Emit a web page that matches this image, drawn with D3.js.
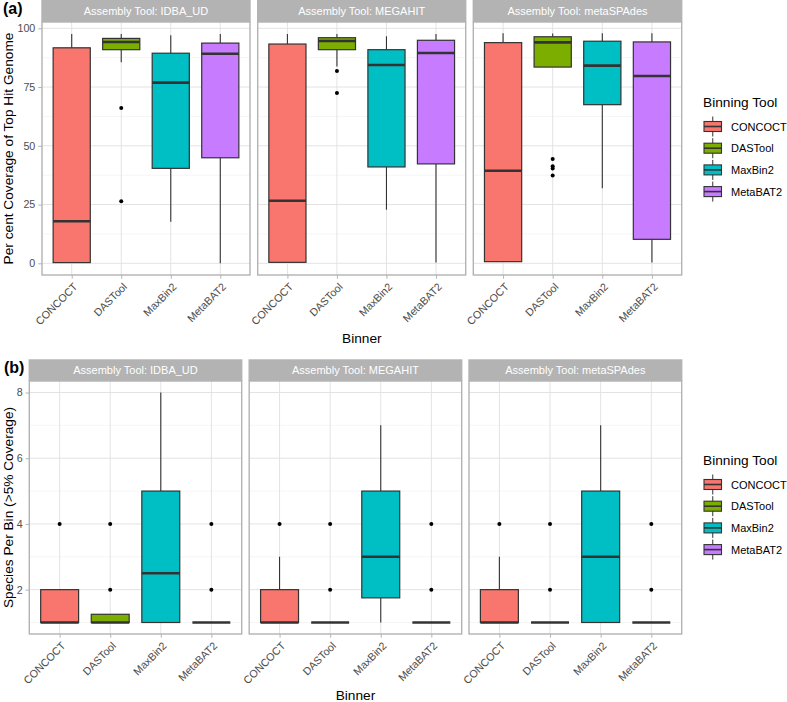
<!DOCTYPE html>
<html>
<head>
<meta charset="utf-8">
<script src="https://cdn.jsdelivr.net/npm/d3@7"></script>
<style>
  html, body { margin: 0; padding: 0; background: #fff; }
  svg { display: block; font-family: "Liberation Sans", Arial, sans-serif; }
</style>
</head>
<body>
<svg id="chart" width="787" height="702"></svg>
<script>
// ---------- DATA ----------
const binners = ["CONCOCT", "DASTool", "MaxBin2", "MetaBAT2"];
const assemblers = ["IDBA_UD", "MEGAHIT", "metaSPAdes"];
const binnerColors = ["#F8766D", "#7CAE00", "#00BFC4", "#C77CFF"];

// box stats per binner: [lower whisker, Q1, median, Q3, upper whisker]
const coverageIDBA = [[0.3, 0.3, 17.9, 91.7, 97.6], [85.5, 90.9, 94.2, 95.7, 97.6], [17.7, 40.4, 76.9, 89.4, 97.0], [0, 44.9, 89.2, 93.7, 97.6]];
const coverageIDBAOutliers = [[], [66.1, 26.4], [], []];
const coverageMEGAHIT = [[0.4, 0.4, 26.6, 93.3, 97.6], [83.7, 90.9, 94.6, 96.0, 97.6], [22.8, 41.0, 84.4, 90.9, 96.6], [0.3, 42.3, 89.5, 94.9, 97.6]];
const coverageMEGAHITOutliers = [[], [81.8, 72.5], [], []];
const coverageMetaSPAdes = [[0.7, 0.7, 39.4, 93.9, 97.9], [83.5, 83.5, 94.0, 96.4, 97.8], [31.9, 67.5, 84.1, 94.5, 97.9], [0.3, 10.2, 79.7, 94.2, 97.9]];
const coverageMetaSPAdesOutliers = [[], [44.4, 41.3, 40.3, 37.4], [], []];

const speciesIDBA = [[1, 1, 1, 2, 2], [1, 1, 1, 1.25, 1.25], [1, 1, 2.5, 5, 8], [1, 1, 1, 1, 1]];
const speciesIDBAOutliers = [[4], [2, 4], [], [2, 4]];
const speciesMEGAHIT = [[1, 1, 1, 2, 3], [1, 1, 1, 1, 1], [1, 1.75, 3, 5, 7], [1, 1, 1, 1, 1]];
const speciesMEGAHITOutliers = [[4], [2, 4], [], [2, 4]];
const speciesMetaSPAdes = [[1, 1, 1, 2, 3], [1, 1, 1, 1, 1], [1, 1, 3, 5, 7], [1, 1, 1, 1, 1]];
const speciesMetaSPAdesOutliers = [[4], [2, 4], [], [2, 4]];

const coverageTicks = [0, 25, 50, 75, 100];
const coverageMinor = [12.5, 37.5, 62.5, 87.5];
const speciesTicks = [2, 4, 6, 8];
const speciesMinor = [1, 3, 5, 7];

// ---------- DRAW ----------
const svg = d3.select("#chart");
const C = {
  strip: "#B3B3B3", border: "#B3B3B3", grid: "#E3E3E3", gridMinor: "#F0F0F0",
  box: "#333333", tickText: "#4D4D4D", text: "#000000"
};

function drawRow(cfg) {
  const g = svg.append("g");
  cfg.panels.forEach((p, i) => {
    const x = d3.scalePoint().domain(binners).range([p[0], p[1]]).padding(0.6);
    const y = d3.scaleLinear().domain(cfg.domain).range([cfg.bottom, cfg.top]);
    const step = x.step();
    const bw = step * 0.75;
    const pg = g.append("g");

    // panel background grid
    pg.selectAll(".gmin").data(cfg.minor).join("line")
      .attr("x1", p[0]).attr("x2", p[1])
      .attr("y1", d => y(d)).attr("y2", d => y(d))
      .attr("stroke", C.gridMinor).attr("stroke-width", 0.7);
    pg.selectAll(".gmaj").data(cfg.ticks).join("line")
      .attr("x1", p[0]).attr("x2", p[1])
      .attr("y1", d => y(d)).attr("y2", d => y(d))
      .attr("stroke", C.grid).attr("stroke-width", 1);
    pg.selectAll(".gx").data(binners).join("line")
      .attr("x1", d => x(d)).attr("x2", d => x(d))
      .attr("y1", cfg.top).attr("y2", cfg.bottom)
      .attr("stroke", C.grid).attr("stroke-width", 1);

    // boxes
    const stats = cfg.stats[i];
    const outs = cfg.outliers[i];
    binners.forEach((b, j) => {
      const s = stats[j];
      const cx = x(b);
      pg.append("line").attr("x1", cx).attr("x2", cx)
        .attr("y1", y(s[3])).attr("y2", y(s[4]))
        .attr("stroke", C.box).attr("stroke-width", 1.1);
      pg.append("line").attr("x1", cx).attr("x2", cx)
        .attr("y1", y(s[0])).attr("y2", y(s[1]))
        .attr("stroke", C.box).attr("stroke-width", 1.1);
      pg.append("rect")
        .attr("x", cx - bw / 2).attr("width", bw)
        .attr("y", y(s[3])).attr("height", Math.max(0, y(s[1]) - y(s[3])))
        .attr("fill", binnerColors[j])
        .attr("stroke", C.box).attr("stroke-width", 1.2);
      pg.append("line").attr("x1", cx - bw / 2).attr("x2", cx + bw / 2)
        .attr("y1", y(s[2])).attr("y2", y(s[2]))
        .attr("stroke", C.box).attr("stroke-width", 2.6);
      pg.selectAll(null).data(outs[j]).join("circle")
        .attr("cx", cx).attr("cy", d => y(d)).attr("r", 2)
        .attr("fill", "#000");
    });

    // panel border
    pg.append("rect").attr("x", p[0]).attr("y", cfg.top)
      .attr("width", p[1] - p[0]).attr("height", cfg.bottom - cfg.top)
      .attr("fill", "none").attr("stroke", C.border).attr("stroke-width", 1.4);

    // strip
    pg.append("rect").attr("x", p[0] - 0.7).attr("y", cfg.stripTop)
      .attr("width", p[1] - p[0] + 1.4).attr("height", cfg.top - cfg.stripTop)
      .attr("fill", C.strip);
    pg.append("text").attr("x", (p[0] + p[1]) / 2).attr("y", (cfg.stripTop + cfg.top) / 2 + 4)
      .attr("text-anchor", "middle").attr("fill", "#fff").attr("font-size", 11)
      .text("Assembly Tool: " + assemblers[i]);

    // x axis ticks & labels
    const xa = pg.append("g").attr("transform", `translate(0,${cfg.bottom})`)
      .call(d3.axisBottom(x).tickSize(3.7).tickSizeOuter(0).tickPadding(2));
    xa.select(".domain").remove();
    xa.selectAll(".tick line").attr("stroke", C.border).attr("stroke-width", 1);
    xa.selectAll(".tick text")
      .attr("fill", C.tickText).attr("font-size", 10.7)
      .attr("font-family", "Liberation Sans, Arial, sans-serif")
      .attr("text-anchor", "end")
      .attr("dy", null).attr("y", 0)
      .attr("transform", "translate(6,12.5) rotate(-45)");

    if (i === 0) {
      const ya = pg.append("g").attr("transform", `translate(${p[0]},0)`)
        .call(d3.axisLeft(y).tickValues(cfg.ticks).tickSize(3.7).tickSizeOuter(0).tickPadding(3));
      ya.select(".domain").remove();
      ya.selectAll(".tick line").attr("stroke", C.border).attr("stroke-width", 1);
      ya.selectAll(".tick text").attr("fill", C.tickText).attr("font-size", 10.7)
        .attr("font-family", "Liberation Sans, Arial, sans-serif");
    }
  });

  const left = cfg.panels[0][0], right = cfg.panels[2][1];
  g.append("text").attr("x", (left + right) / 2).attr("y", cfg.xTitleY)
    .attr("text-anchor", "middle").attr("font-size", 13.7).attr("fill", C.text)
    .text("Binner");
  g.append("text").attr("transform", `translate(13,${(cfg.top + cfg.bottom) / 2}) rotate(-90)`)
    .attr("text-anchor", "middle").attr("font-size", 13.7).attr("fill", C.text)
    .text(cfg.yTitle);
  g.append("text").attr("x", cfg.tagX).attr("y", cfg.tagY)
    .attr("font-size", 16).attr("font-weight", "bold").attr("fill", C.text)
    .text(cfg.tag);

  // legend
  const lg = g.append("g").attr("transform", `translate(704,${cfg.legendY})`);
  lg.append("text").attr("x", -1).attr("y", 0).attr("font-size", 13.7).attr("fill", C.text)
    .text("Binning Tool");
  binners.forEach((b, j) => {
    const cy = 19.5 + j * 21.7;
    lg.append("line").attr("x1", 8.75).attr("x2", 8.75).attr("y1", cy - 10).attr("y2", cy + 10)
      .attr("stroke", C.box).attr("stroke-width", 1);
    lg.append("rect").attr("x", 0).attr("y", cy - 5).attr("width", 17.5).attr("height", 10)
      .attr("fill", binnerColors[j]).attr("stroke", C.box).attr("stroke-width", 1.1);
    lg.append("line").attr("x1", 0).attr("x2", 17.5).attr("y1", cy).attr("y2", cy)
      .attr("stroke", C.box).attr("stroke-width", 1.6);
    lg.append("text").attr("x", 27).attr("y", cy + 4).attr("font-size", 11).attr("fill", C.text)
      .text(b);
  });
}

drawRow({
  panels: [[42, 250], [257.7, 465.7], [473.3, 681.7]],
  stripTop: 0, top: 22, bottom: 275,
  domain: [-4.98, 102.68],
  ticks: coverageTicks, minor: coverageMinor,
  stats: [coverageIDBA, coverageMEGAHIT, coverageMetaSPAdes],
  outliers: [coverageIDBAOutliers, coverageMEGAHITOutliers, coverageMetaSPAdesOutliers],
  yTitle: "Per cent Coverage of Top Hit Genome",
  xTitleY: 343, tag: "(a)", tagX: 3, tagY: 14, legendY: 107
});

drawRow({
  panels: [[29.3, 241.7], [249.2, 461.7], [469, 681.7]],
  stripTop: 359.3, top: 381, bottom: 634,
  domain: [0.65, 8.35],
  ticks: speciesTicks, minor: speciesMinor,
  stats: [speciesIDBA, speciesMEGAHIT, speciesMetaSPAdes],
  outliers: [speciesIDBAOutliers, speciesMEGAHITOutliers, speciesMetaSPAdesOutliers],
  yTitle: "Species Per Bin (>5% Coverage)",
  xTitleY: 700, tag: "(b)", tagX: 4, tagY: 373, legendY: 465
});
</script>
</body>
</html>
